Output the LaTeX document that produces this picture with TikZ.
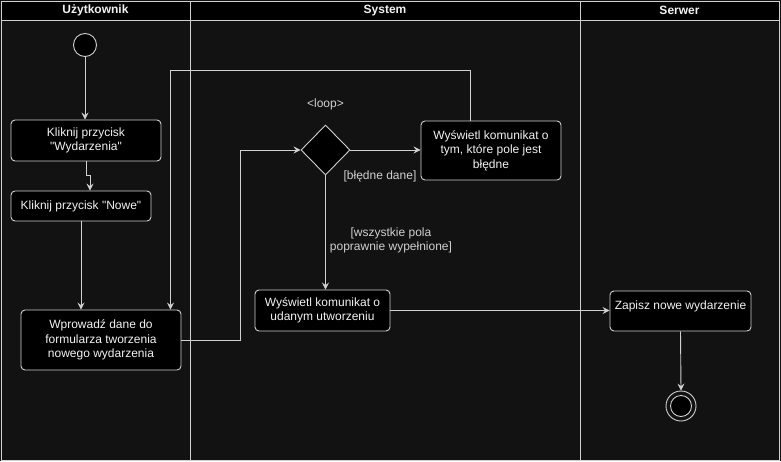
\documentclass[tikz,border=0pt]{standalone}
\usepackage{fontspec}
\setmainfont{Liberation Sans}[Ligatures=TeXOff]
\usetikzlibrary{arrows.meta,shapes.geometric}
\definecolor{bgc}{HTML}{121212}
\definecolor{linec}{HTML}{D0D0D0}
\definecolor{txtc}{HTML}{F2F2F2}
\begin{document}
\begin{tikzpicture}[x=1pt,y=-1pt,
  every node/.style={font=\fontsize{12}{14.6}\selectfont, text=txtc},
  act/.style={draw=linec, fill=black, rounded corners=4pt, line width=0.9pt, align=center, inner sep=0pt},
  conn/.style={draw=linec, line width=0.9pt, -{Stealth[length=7pt,width=7pt,inset=2.5pt]}},
  lane/.style={draw=linec, line width=0.9pt},
  hdr/.style={draw=linec, fill=black, line width=0.9pt},
  hdrtext/.style={font=\bfseries\fontsize{12}{14}\selectfont},
  guard/.style={text=linec, align=center}
  ]
% background and bounding box
\fill[bgc] (0,0) rectangle (781,461);
\useasboundingbox (0,0) rectangle (781,461);
% lanes
\draw[lane] (1,1) rectangle (190,460);
\draw[lane] (190,1) rectangle (580,460);
\draw[lane] (580,1) rectangle (779,460);
\draw[hdr] (1,1) rectangle (190,20);
\draw[hdr] (190,1) rectangle (580,20);
\draw[hdr] (580,1) rectangle (779,20);
\node[hdrtext] (h1) at (95.5,10.5) {Użytkownik};
\node[hdrtext] (h2) at (385,10.5) {System};
\node[hdrtext] (h3) at (679.5,10.5) {Serwer};
% nodes
\node[draw=linec, fill=black, line width=0.9pt, circle, minimum size=23pt, inner sep=0pt] (start) at (85,45) {};
\node[act, minimum width=150pt, minimum height=41pt] (b1) at (86,140.5) {Kliknij przycisk\\"Wydarzenia"};
\node[act, minimum width=140pt, minimum height=30pt] (b2) at (81,206) {Kliknij przycisk "Nowe"};
\node[act, minimum width=160pt, minimum height=60pt] (b3) at (101,340) {Wprowadź dane do\\formularza tworzenia\\nowego wydarzenia};
\node[draw=linec, fill=black, line width=0.9pt, diamond, minimum width=49pt, minimum height=50pt, inner sep=0pt] (dec) at (325.5,150) {};
\node[act, minimum width=140pt, minimum height=59pt] (err) at (491,150.5) {Wyświetl komunikat o\\tym, które pole jest\\błędne};
\node[act, minimum width=135pt, minimum height=41pt] (ok) at (322.5,310.5) {Wyświetl komunikat o\\udanym utworzeniu};
\node[act, minimum width=141pt, minimum height=40pt] (save) at (680.5,311) {Zapisz nowe wydarzenie\\[-8pt]\strut};
\node[draw=linec, line width=0.9pt, circle, minimum size=30pt, inner sep=0pt] (end) at (681,406) {};
\node[draw=linec, fill=black, line width=0.9pt, circle, minimum size=21pt, inner sep=0pt] (endin) at (end.center) {};
% labels
\node[guard] (loop) at (325.5,104) {<loop>};
\node[guard] (g1) at (380,176) {[błędne dane]};
\node[guard] (g2) at (391,240.5) {[wszystkie pola\\poprawnie wypełnione]};
% connectors
\coordinate (j1) at (86,175);
\coordinate (j2) at (90,175);
\draw[conn] (start) -- (start.south |- b1.north);
\draw[conn] (b1.south -| j1) -- (j1) -- (j2) -- (j2 |- b2.north);
\draw[conn] (b2.south) -- (b2.south |- b3.north);
\coordinate (lp1) at (470,70);
\coordinate (lp2) at (170.5,70);
\draw[conn] (lp1 |- err.north) -- (lp1) -- (lp2) -- (lp2 |- b3.north);
\coordinate (c1) at (240.5,340);
\draw[conn] (b3.east) -- (c1) |- (dec.west);
\draw[conn] (dec.east) -- (err.west |- dec.east);
\draw[conn] (dec.south) -- (dec.south |- ok.north);
\draw[conn] (ok.east) -- (save.west |- ok.east);
\draw[conn] (save.south) -- (end.north);
\end{tikzpicture}
\end{document}
